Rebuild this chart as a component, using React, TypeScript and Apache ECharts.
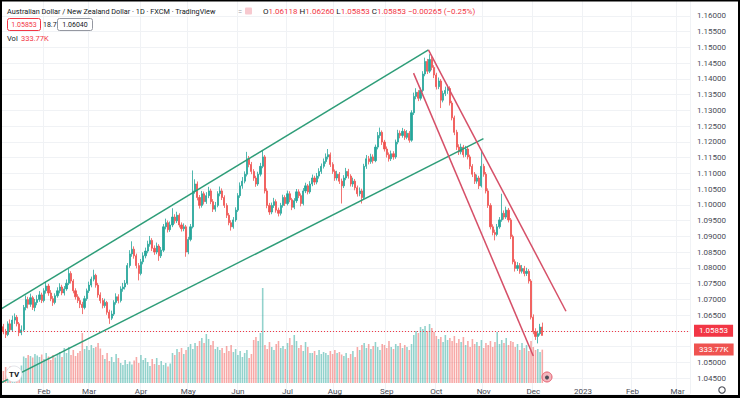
import React, { useEffect, useRef } from "react";
import * as echarts from "echarts";

// ---------- data ----------
const START_DATE = Date.UTC(2022, 0, 5); // first trading-day slot
const SLOT_COUNT = 306; // trading-day slots incl. future space up to early Mar 2023
const FIRST_OPEN = 1.062;

const closes = [
  1.0613, 1.0597, 1.0588, 1.0622, 1.0603, 1.0634, 1.0643, 1.0622, 1.0594, 1.0603,
  1.0674, 1.0699, 1.0684, 1.0705, 1.0674, 1.069, 1.0699, 1.0714, 1.0696, 1.0727,
  1.0742, 1.072, 1.0702, 1.069, 1.0711, 1.0727, 1.0739, 1.072, 1.0733, 1.0751,
  1.0782, 1.0758, 1.0727, 1.0708, 1.0696, 1.0684, 1.0674, 1.0702, 1.0727, 1.0745,
  1.0764, 1.0776, 1.0745, 1.0714, 1.0696, 1.068, 1.069, 1.0659, 1.064, 1.0653,
  1.069, 1.0708, 1.0696, 1.0733, 1.0739, 1.0751, 1.0807, 1.0844, 1.0859, 1.0838,
  1.0807, 1.0782, 1.0819, 1.0838, 1.0853, 1.0875, 1.0887, 1.0862, 1.085, 1.0869,
  1.0838, 1.0856, 1.093, 1.0943, 1.0921, 1.0936, 1.0961, 1.0949, 1.0967, 1.0936,
  1.0924, 1.093, 1.085, 1.089, 1.093, 1.1044, 1.1066, 1.1023, 1.0998, 1.1035,
  1.101, 1.1029, 1.1044, 1.101, 1.0986, 1.0998, 1.1035, 1.1044, 1.1023, 1.0998,
  1.0967, 1.0943, 1.093, 1.0952, 1.0983, 1.1029, 1.106, 1.1075, 1.1097, 1.1146,
  1.1128, 1.1106, 1.1085, 1.1066, 1.1097, 1.1122, 1.1152, 1.1044, 1.0998, 1.0977,
  1.0998, 1.101, 1.0983, 1.0973, 1.0998, 1.1023, 1.1004, 1.1035, 1.1016, 1.0992,
  1.1013, 1.1041, 1.1029, 1.1004, 1.1044, 1.106, 1.1041, 1.1066, 1.1085, 1.1072,
  1.1091, 1.1106, 1.1122, 1.1137, 1.1152, 1.1159, 1.1128, 1.1106, 1.1085, 1.1097,
  1.1075, 1.106, 1.1085, 1.1106, 1.1091, 1.1066, 1.1075, 1.1054, 1.1035, 1.1044,
  1.1023, 1.1122, 1.1146, 1.1137, 1.1152, 1.114, 1.1183, 1.122, 1.123, 1.1199,
  1.1177, 1.1159, 1.1146, 1.1162, 1.1152, 1.1199, 1.1227, 1.122, 1.1233, 1.1214,
  1.1227, 1.1205, 1.1292, 1.1344, 1.1357, 1.1338, 1.1363, 1.1415, 1.1455, 1.1424,
  1.1461, 1.1436, 1.1412, 1.1375, 1.1393, 1.1332, 1.1353, 1.1363, 1.1369, 1.1323,
  1.1276, 1.123, 1.1183, 1.1168, 1.1183, 1.1159, 1.1177, 1.1152, 1.1122, 1.1097,
  1.1075, 1.1085, 1.106, 1.1122, 1.1097, 1.1044, 1.0998, 1.093, 1.0912, 1.0906,
  1.093, 1.0952, 1.0973, 1.0961, 1.0983, 1.0952, 1.0899, 1.0819, 1.0798, 1.0807,
  1.0789, 1.0798, 1.0782, 1.0789, 1.0758, 1.0643, 1.0597, 1.0582, 1.0591, 1.06118,
  1.05853,
];

const highs = [
  1.0631, 1.0622, 1.0606, 1.063, 1.0636, 1.0648, 1.0655, 1.065, 1.0628, 1.0617,
  1.0682, 1.0712, 1.0708, 1.0718, 1.0711, 1.0701, 1.0713, 1.0726, 1.0721, 1.0735,
  1.0756, 1.0749, 1.0729, 1.071, 1.0719, 1.0738, 1.0751, 1.0746, 1.0742, 1.0763,
  1.0797, 1.0789, 1.0764, 1.0735, 1.0716, 1.0705, 1.0692, 1.0711, 1.0734, 1.0756,
  1.0772, 1.0794, 1.0781, 1.0752, 1.0722, 1.0704, 1.0702, 1.0695, 1.0667, 1.0664,
  1.0697, 1.0719, 1.0716, 1.0741, 1.0752, 1.0761, 1.0815, 1.0856, 1.0884, 1.0868,
  1.0845, 1.0815, 1.0828, 1.0849, 1.0864, 1.0886, 1.0901, 1.0894, 1.0871, 1.088,
  1.0875, 1.0866, 1.0939, 1.0956, 1.095, 1.0947, 1.0989, 1.097, 1.0978, 1.0973,
  1.0944, 1.0941, 1.0936, 1.0898, 1.0939, 1.1109, 1.1081, 1.1074, 1.1031, 1.1044,
  1.1042, 1.104, 1.1057, 1.1051, 1.1018, 1.1009, 1.1043, 1.1058, 1.1052, 1.103,
  1.1005, 1.0974, 1.0951, 1.0961, 1.0992, 1.1037, 1.1071, 1.1088, 1.1106, 1.1168,
  1.1155, 1.1136, 1.1113, 1.1092, 1.1105, 1.1133, 1.1174, 1.1158, 1.1052, 1.1006,
  1.1007, 1.1022, 1.1017, 1.0991, 1.1006, 1.1032, 1.103, 1.1045, 1.1043, 1.1022,
  1.1021, 1.105, 1.1049, 1.1036, 1.1053, 1.107, 1.1066, 1.1075, 1.1096, 1.1092,
  1.1101, 1.1116, 1.1131, 1.1147, 1.1163, 1.1177, 1.1166, 1.1135, 1.1112, 1.1108,
  1.1104, 1.1083, 1.1094, 1.1117, 1.1114, 1.1097, 1.1086, 1.1082, 1.1061, 1.1055,
  1.1051, 1.113, 1.1158, 1.1155, 1.1162, 1.116, 1.1191, 1.1231, 1.1245, 1.1236,
  1.1206, 1.1185, 1.1166, 1.1172, 1.117, 1.1207, 1.1238, 1.1236, 1.1244, 1.124,
  1.1237, 1.1234, 1.13, 1.1356, 1.137, 1.1364, 1.1372, 1.1424, 1.1467, 1.1463,
  1.1478, 1.1469, 1.1443, 1.1419, 1.1404, 1.1399, 1.1362, 1.1375, 1.1381, 1.1376,
  1.133, 1.1283, 1.1238, 1.1192, 1.1194, 1.119, 1.1187, 1.1184, 1.1159, 1.1129,
  1.1104, 1.1096, 1.1092, 1.1174, 1.113, 1.1104, 1.1052, 1.1005, 1.0938, 1.0921,
  1.0939, 1.0961, 1.1035, 1.0982, 1.0994, 1.099, 1.0958, 1.0905, 1.0827, 1.0818,
  1.0815, 1.0809, 1.0806, 1.08, 1.0796, 1.0764, 1.0652, 1.0608, 1.06, 1.0622,
  1.0626,
];

const lows = [
  1.0604, 1.0589, 1.0577, 1.0583, 1.0596, 1.0598, 1.0622, 1.0614, 1.0583, 1.0586,
  1.0598, 1.0665, 1.0671, 1.0676, 1.0666, 1.0662, 1.0681, 1.0692, 1.0688, 1.069,
  1.0718, 1.0711, 1.0694, 1.0679, 1.0684, 1.0705, 1.0719, 1.0713, 1.0712, 1.0727,
  1.0745, 1.075, 1.0719, 1.0699, 1.0688, 1.0672, 1.0653, 1.0668, 1.0695, 1.072,
  1.0738, 1.0757, 1.0737, 1.0705, 1.0687, 1.0671, 1.0673, 1.0651, 1.0622, 1.0634,
  1.0647, 1.0683, 1.0687, 1.069, 1.0724, 1.0731, 1.0746, 1.08, 1.0835, 1.0829,
  1.0798, 1.076, 1.0776, 1.0811, 1.083, 1.0846, 1.0867, 1.0853, 1.0841, 1.0843,
  1.0822, 1.0831, 1.085, 1.0922, 1.0912, 1.0914, 1.0929, 1.094, 1.0942, 1.0928,
  1.0915, 1.0916, 1.0835, 1.0843, 1.0884, 1.0925, 1.1035, 1.1014, 1.0988, 1.0991,
  1.1001, 1.1003, 1.1021, 1.1002, 1.0977, 1.0978, 1.0992, 1.1027, 1.1015, 1.099,
  1.0958, 1.0935, 1.0918, 1.0924, 1.0946, 1.0977, 1.1022, 1.1051, 1.1068, 1.109,
  1.1119, 1.1097, 1.1076, 1.1057, 1.106, 1.109, 1.1116, 1.1036, 1.0989, 1.0968,
  1.097, 1.099, 1.0975, 1.0963, 1.0966, 1.0991, 1.0996, 1.0998, 1.1008, 1.0983,
  1.0986, 1.1006, 1.1021, 1.0995, 1.0998, 1.1037, 1.1033, 1.1035, 1.1059, 1.1063,
  1.1065, 1.1083, 1.1098, 1.1115, 1.113, 1.1144, 1.112, 1.1098, 1.1076, 1.1077,
  1.1066, 1.1004, 1.1053, 1.1078, 1.1083, 1.1058, 1.1057, 1.1046, 1.1026, 1.1027,
  1.1004, 1.1018, 1.1114, 1.1128, 1.113, 1.1131, 1.1135, 1.1176, 1.1211, 1.119,
  1.1169, 1.115, 1.1137, 1.1139, 1.1143, 1.1146, 1.1192, 1.1211, 1.1213, 1.1206,
  1.1208, 1.1197, 1.12, 1.1285, 1.1335, 1.1329, 1.1331, 1.1357, 1.1408, 1.1415,
  1.1418, 1.1427, 1.1402, 1.1366, 1.1367, 1.1307, 1.1325, 1.1345, 1.1352, 1.1315,
  1.1268, 1.1221, 1.1174, 1.1158, 1.116, 1.115, 1.1152, 1.1144, 1.1113, 1.1088,
  1.1066, 1.1067, 1.105, 1.1055, 1.1089, 1.1036, 1.099, 1.0922, 1.0903, 1.0887,
  1.09, 1.0924, 1.0946, 1.0953, 1.0955, 1.0944, 1.0891, 1.0811, 1.0788, 1.079,
  1.0781, 1.0782, 1.0773, 1.0774, 1.075, 1.0636, 1.0589, 1.0571, 1.056, 1.0585,
  1.05853,
];

// daily volume, thousands
const volumes = [
  150, 120, 160, 135, 165, 150, 140, 160, 145, 175,
  265, 250, 280, 270, 255, 290, 275, 260, 285,
  240, 300, 265, 230, 280, 255, 290,
  310, 260, 350, 300, 360, 280, 330, 270, 300, 320,
  500,
  340, 370, 330, 380, 350, 360, 400, 345,
  280, 240, 300, 220, 260, 210, 290, 250,
  200, 180, 230, 190, 215, 185, 225,
  260, 200, 280, 230, 250,
  210, 170, 240, 190, 250, 180, 220,
  180, 200, 165, 195,
  300, 280, 340, 310, 350, 290, 330,
  360, 390, 340, 400, 370,
  420, 450, 400, 490, 440,
  380, 420, 340, 360, 330,
  350, 300, 370, 320, 380, 310, 340,
  280, 320, 260, 300, 330, 250, 290,
  430, 460, 420, 500,
  950,
  380, 340, 410, 360, 330, 390, 420, 350, 370, 340,
  400, 450, 380, 480, 420,
  350, 380, 320, 410, 360, 300,
  300, 320, 280, 330, 290, 310, 300, 280, 320, 290, 330, 300, 310, 285,
  270, 300, 250, 290, 320, 260,
  360, 330, 380, 400, 350, 390, 340, 370, 410, 360, 330, 390, 380, 350, 420, 360, 340, 390, 370, 400, 350, 380, 360, 330, 390,
  480, 520, 500, 560, 540, 570, 520, 590, 550, 510, 470,
  440, 460, 410, 480, 430, 450, 420, 470, 400, 440, 410, 460,
  380, 420, 360, 440, 390, 410, 370, 430, 350, 400, 380, 420, 360, 410, 510, 390,
  430, 400, 450, 380, 420, 410,
  360, 390, 330, 400, 350, 380, 320, 420, 360, 330,
  340, 310, 333.77,
];

// trend lines: [trading-day index, price]
const upperGreen = [[-0.5, 1.0667], [189.5, 1.1492]];
const lowerGreen = [[-0.5, 1.0433], [213.9, 1.121]];
const upperRed = [[189.5, 1.1492], [250.5, 1.0662]];
const lowerRed = [[182.9, 1.1418], [236.0, 1.052]];

const LAST = { open: 1.06118, high: 1.0626, low: 1.05853, close: 1.05853, change: -0.00265, pct: -0.25, bid: 1.05853, spread: "18.7", ask: 1.0604, vol: 333.77, volText: "333.77K" };
const TITLE = "Australian Dollar / New Zealand Dollar · 1D · FXCM · TradingView";
const MONTHS = ["Jan", "Feb", "Mar", "Apr", "May", "Jun", "Jul", "Aug", "Sep", "Oct", "Nov", "Dec"];

const PRICE_MIN = 1.04;
const PRICE_MAX = 1.165;
const PRICE_STEP = 0.005;
const VOL_MAX = 1000;

// ---------- styles ----------
const UP = "#26a69a";
const DOWN = "#ef5350";
const GREEN_LINE = "#2e9d78";
const RED_LINE = "#d65068";
const TEXT_RED = "#f23645";
const FONT = "Roboto";

function buildDates(): string[] {
  const out: string[] = [];
  let t = START_DATE;
  while (out.length < SLOT_COUNT) {
    const d = new Date(t);
    const wd = d.getUTCDay();
    if (wd !== 0 && wd !== 6) out.push(d.toISOString().slice(0, 10));
    t += 86400000;
  }
  return out;
}

export default function App() {
  const ref = useRef<HTMLDivElement>(null);
  useEffect(() => {
    if (!ref.current) return;
    const chart = echarts.init(ref.current, undefined, { renderer: "svg" });
    const dates = buildDates();
    const monthStart = new Set<number>();
    for (let i = 1; i < dates.length; i++) {
      if (dates[i].slice(5, 7) !== dates[i - 1].slice(5, 7)) monthStart.add(i);
    }
    const isMonthStart = (idx: number) => monthStart.has(idx);
    const opens = closes.map((_, i) => (i === 0 ? FIRST_OPEN : closes[i - 1]));
    const candles = closes.map((c, i) => [opens[i], c, lows[i], highs[i]]);
    const volData = volumes.map((v, i) => ({
      value: v,
      itemStyle: { color: closes[i] >= opens[i] ? "rgba(38,166,154,0.5)" : "rgba(239,83,80,0.5)" },
    }));
    const fmtDate = (v: string) => {
      const m = parseInt(v.slice(5, 7), 10) - 1;
      return m === 0 ? v.slice(0, 4) : MONTHS[m];
    };
    const trend = (data: number[][], color: string) => ({
      type: "line",
      xAxisIndex: 2,
      yAxisIndex: 0,
      data,
      symbol: "none",
      silent: true,
      lineStyle: { color, width: 1.5 },
      z: 5,
    });
    const t = (x: number, y: number, text: string, fill: string, extra: any = {}) => ({
      type: "text",
      x,
      y,
      style: { text, fill, fontSize: 7.5, fontFamily: FONT, verticalAlign: "middle", ...extra },
      z: 100,
    });
    const f5 = (v: number) => v.toFixed(5);
    chart.setOption({
      animation: false,
      backgroundColor: "#ffffff",
      textStyle: { fontFamily: FONT },
      grid: [
        { left: -2.1, right: 50, top: -11.2, bottom: 4.2 },
        { left: -2.1, right: 50, top: 283, bottom: 15 },
      ],
      xAxis: [
        {
          type: "category",
          gridIndex: 0,
          data: dates,
          boundaryGap: true,
          axisLine: { show: false },
          axisTick: { show: false },
          axisLabel: { show: false },
          splitLine: { show: true, interval: (i: number) => isMonthStart(i), lineStyle: { color: "#f0f2f5", width: 1 } },
        },
        {
          type: "category",
          gridIndex: 1,
          data: dates,
          boundaryGap: true,
          axisLine: { show: false },
          axisTick: { show: false },
          splitLine: { show: false },
          axisLabel: {
            interval: (i: number) => isMonthStart(i),
            formatter: fmtDate,
            fontSize: 8,
            color: "#4a4d57",
            margin: 4,
            hideOverlap: false,
          },
        },
        { type: "value", gridIndex: 0, min: -0.5, max: SLOT_COUNT - 0.5, show: false },
      ],
      yAxis: [
        {
          type: "value",
          gridIndex: 0,
          position: "right",
          min: PRICE_MIN,
          max: PRICE_MAX,
          interval: PRICE_STEP,
          axisLine: { show: false },
          axisTick: { show: false },
          axisLabel: { formatter: f5, fontSize: 8, color: "#4a4d57", margin: 7, showMinLabel: false, showMaxLabel: false },
          splitLine: { show: true, lineStyle: { color: "#f0f2f5", width: 1 } },
        },
        { type: "value", gridIndex: 1, min: 0, max: VOL_MAX, show: false, splitLine: { show: false } },
      ],
      series: [
        {
          type: "bar",
          xAxisIndex: 1,
          yAxisIndex: 1,
          data: volData,
          barWidth: "70%",
          silent: true,
          z: 1,
          markLine: {
            silent: true,
            symbol: ["none", "none"],
            lineStyle: { width: 0, color: "rgba(0,0,0,0)" },
            label: {
              show: true,
              position: "end",
              formatter: LAST.volText,
              color: "#fff",
              backgroundColor: DOWN,
              fontSize: 8,
              padding: [2, 5, 2, 5],
              distance: 4,
            },
            data: [{ yAxis: LAST.vol }],
          },
        },
        {
          type: "candlestick",
          xAxisIndex: 0,
          yAxisIndex: 0,
          data: candles,
          barWidth: "72%",
          silent: true,
          z: 3,
          itemStyle: { color: UP, color0: DOWN, borderColor: UP, borderColor0: DOWN, borderWidth: 0.8 },
          markLine: {
            silent: true,
            symbol: ["none", "none"],
            lineStyle: { color: TEXT_RED, type: [1, 2], width: 1 },
            label: {
              show: true,
              position: "end",
              formatter: f5(LAST.close),
              color: "#fff",
              backgroundColor: TEXT_RED,
              fontSize: 8,
              padding: [2, 5, 2, 5],
              distance: 4,
            },
            data: [{ yAxis: LAST.close }],
          },
        },
        trend(upperGreen, GREEN_LINE),
        trend(lowerGreen, GREEN_LINE),
        trend(upperRed, RED_LINE),
        trend(lowerRed, RED_LINE),
      ],
      graphic: [
        t(7, 11, TITLE, "#131722", { fontSize: 7.3 }),
        t(238, 11, "=", "#9598a1"),
        { type: "rect", shape: { x: 245, y: 7.5, width: 7, height: 7, r: 1 }, style: { fill: "#f7c9cf" }, z: 100 },
        {
          type: "text",
          x: 263,
          y: 11,
          z: 100,
          style: {
            fontSize: 8,
            fontFamily: FONT,
            verticalAlign: "middle",
            text: `{k|O}{v|${f5(LAST.open)}} {k|H}{v|${f5(LAST.high)}} {k|L}{v|${f5(LAST.low)}} {k|C}{v|${f5(LAST.close)}} {v|${LAST.change.toFixed(5).replace("-", "−")} (${LAST.pct.toFixed(2).replace("-", "−")}%)}`,
            rich: {
              k: { fill: "#131722", fontSize: 8, fontFamily: FONT },
              v: { fill: TEXT_RED, fontSize: 8, fontFamily: FONT },
            },
          },
        },
        { type: "rect", shape: { x: 7.5, y: 18.5, width: 33, height: 12, r: 2 }, style: { fill: "#fff", stroke: TEXT_RED, lineWidth: 1 }, z: 100 },
        t(24, 24.5, f5(LAST.bid), TEXT_RED, { align: "center", fontSize: 7 }),
        t(43, 24.5, LAST.spread, "#131722", { fontSize: 7 }),
        { type: "rect", shape: { x: 57.5, y: 18.5, width: 35, height: 12, r: 2 }, style: { fill: "#fff", stroke: "#9598a1", lineWidth: 1 }, z: 100 },
        t(75, 24.5, f5(LAST.ask), "#131722", { align: "center", fontSize: 7 }),
        t(7, 38, "Vol", "#131722"),
        t(21, 38, LAST.volText, TEXT_RED),
        { type: "circle", shape: { cx: 14, cy: 374, r: 8 }, style: { fill: "#fff", stroke: "#d1d4dc", lineWidth: 0.6 }, z: 100 },
        t(14, 374.5, "TV", "#131722", { align: "center", fontWeight: "bold", fontSize: 8 }),
        { type: "circle", shape: { cx: 547, cy: 377, r: 5 }, style: { fill: "#f3b6bd", stroke: "#e35b6c", lineWidth: 1 }, z: 100 },
        { type: "circle", shape: { cx: 547, cy: 377.5, r: 2 }, style: { fill: "#4a4d57" }, z: 101 },
        { type: "circle", shape: { cx: 722, cy: 390, r: 3.2 }, style: { fill: "none", stroke: "#4a4d57", lineWidth: 1.1 }, z: 100 },
        { type: "rect", shape: { x: 0, y: 0, width: 740, height: 1.5 }, style: { fill: "#000" }, z: 200 },
        { type: "rect", shape: { x: 0, y: 395, width: 740, height: 3 }, style: { fill: "#000" }, z: 200 },
        { type: "rect", shape: { x: 0, y: 0, width: 2, height: 398 }, style: { fill: "#000" }, z: 200 },
        { type: "rect", shape: { x: 738, y: 0, width: 2, height: 398 }, style: { fill: "#000" }, z: 200 },
      ],
    });
    return () => chart.dispose();
  }, []);
  return <div ref={ref} style={{ position: "fixed", left: 0, top: 0, width: 740, height: 398 }} />;
}
